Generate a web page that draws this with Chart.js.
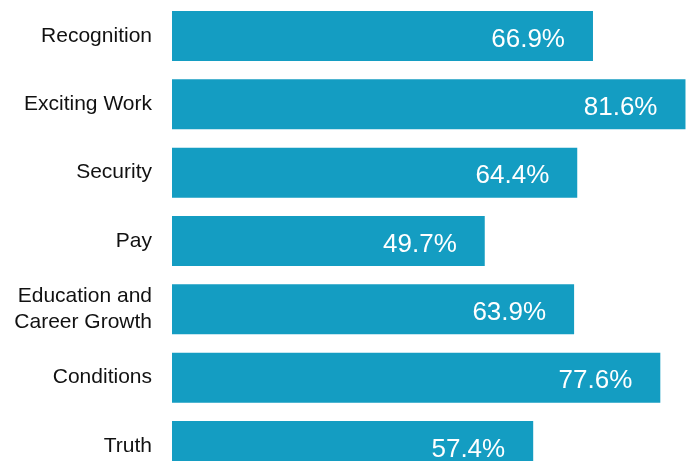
<!DOCTYPE html>
<html>
<head>
<meta charset="utf-8">
<script src="https://cdn.jsdelivr.net/npm/chart.js@4/dist/chart.umd.min.js"></script>
<style>
  html, body { margin: 0; padding: 0; background: #fff; overflow: hidden; }
  #wrap { width: 688px; height: 461px; overflow: hidden; }
</style>
</head>
<body>
<div id="wrap"><canvas id="bars" width="688" height="482"></canvas></div>
<script>
  // motivators, share of respondents (%)
  const categories = [
    'Recognition',
    'Exciting Work',
    'Security',
    'Pay',
    ['Education and', 'Career Growth'],
    'Conditions',
    'Truth'
  ];
  const values = [66.9, 81.6, 64.4, 49.7, 63.9, 77.6, 57.4];

  const BAR_COLOR = '#149dc2';
  const FONT = '"Liberation Sans", Arial, sans-serif';

  // white value label inside the end of each bar
  const valueLabels = {
    id: 'valueLabels',
    afterDatasetsDraw(chart) {
      const ctx = chart.ctx;
      const meta = chart.getDatasetMeta(0);
      ctx.save();
      ctx.fillStyle = '#fff';
      ctx.font = '26px ' + FONT;
      ctx.textAlign = 'right';
      ctx.textBaseline = 'alphabetic';
      meta.data.forEach(function (bar, i) {
        ctx.fillText(values[i].toFixed(1) + '%', bar.x - 28, bar.y + 10.8);
      });
      ctx.restore();
    }
  };

  new Chart(document.getElementById('bars'), {
    type: 'bar',
    data: {
      labels: categories,
      datasets: [{
        data: values,
        backgroundColor: BAR_COLOR,
        borderWidth: 0,
        categoryPercentage: 1,
        barPercentage: 0.732
      }]
    },
    options: {
      indexAxis: 'y',
      responsive: false,
      animation: false,
      layout: { padding: { top: 1.8, bottom: 1.8, right: 0, left: 0 } },
      plugins: {
        legend: { display: false },
        tooltip: { enabled: false }
      },
      scales: {
        x: {
          display: false,
          min: 0,
          max: 82
        },
        y: {
          afterFit(scale) {
            // fixed gutter for the labels, no extra room above/below
            scale.width = 172;
            scale.paddingTop = 0;
            scale.paddingBottom = 0;
          },
          grid: { display: false, drawTicks: false, tickLength: 0 },
          border: { display: false },
          ticks: {
            padding: 20,
            color: '#111',
            font: { family: FONT, size: 21, lineHeight: 1.24 }
          }
        }
      }
    },
    plugins: [valueLabels]
  });
</script>
</body>
</html>
